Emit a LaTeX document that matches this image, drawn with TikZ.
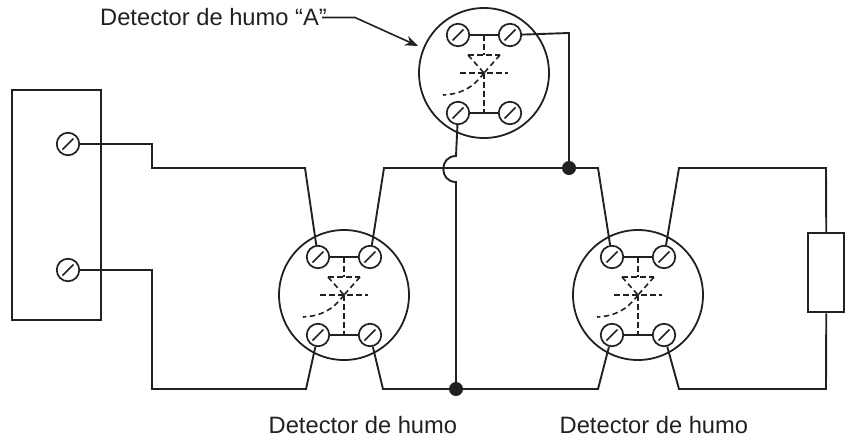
\documentclass[tikz,border=0pt]{standalone}
\usepackage{fontspec}
\setmainfont{Liberation Sans}
\usetikzlibrary{arrows.meta}
\definecolor{ink}{gray}{0.13}
\tikzset{
	screw/.style={draw=ink, circle, minimum size=22.5pt, inner sep=0pt, line width=1.7pt,
		path picture={\draw [ink, line width=1.5pt] ([shift={(-5.5pt,-5.5pt)}]path picture bounding box.center) -- ([shift={(5.5pt,5.5pt)}]path picture bounding box.center);}},
	housing/.style={draw=ink, circle, minimum size=130pt, inner sep=0pt, line width=1.8pt},
	box/.style={draw=ink, inner sep=0pt, line width=2pt},
	wire/.style={ink, line width=1.9pt},
	inner dash/.style={ink, line width=1.6pt, dash pattern=on 5.5pt off 3.5pt},
	junction/.style={fill=ink, circle, minimum size=14pt, inner sep=0pt},
	caption/.style={font=\fontsize{23.7}{26}\selectfont, inner sep=0pt, text=ink}
}
% one smoke detector: housing, four screws, inner contacts
\newcommand{\detector}[3]{
	\node [housing] (#1) at (#2,#3) {};
	\node [screw] (#1tl) at (#2-26,#3-38) {};
	\node [screw] (#1tr) at (#2+26,#3-38) {};
	\node [screw] (#1bl) at (#2-26,#3+40) {};
	\node [screw] (#1br) at (#2+26,#3+40) {};
	\draw [ink, line width=1.5pt] (#1tl) -- (#1tr);
	\draw [ink, line width=1.5pt] (#1bl) -- (#1br);
	\draw [inner dash] (#2,#3-38) -- (#2,#3-18);
	\draw [inner dash] (#2-16,#3-18) -- (#2+16,#3-18);
	\draw [inner dash] (#2-16,#3-18) -- (#2,#3);
	\draw [inner dash] (#2+16,#3-18) -- (#2,#3);
	\draw [inner dash] (#2-24,#3) -- (#2+24,#3);
	\draw [inner dash] (#2,#3) -- (#2,#3+40);
	\draw [inner dash] (#2,#3) .. controls (#2-12,#3+16) and (#2-24,#3+21) .. (#2-41,#3+22);
}
\begin{document}
\begin{tikzpicture}[x=1pt,y=-1pt]
	\useasboundingbox (0,0) rectangle (851,440);
	% panel
	\node [box, minimum width=89pt, minimum height=230pt] (panel) at (56,204.5) {};
	\node [screw] (ptop) at (68,144) {};
	\node [screw] (pbot) at (68,270) {};
	% detectors
	\detector{A}{484}{73}
	\detector{L}{344}{295}
	\detector{R}{638}{295}
	% end of line resistor
	\node [box, minimum width=36pt, minimum height=79pt] (res) at (826.4,272.9) {};
	% junctions
	\node [junction] (jtop) at (569,168) {};
	\node [junction] (jbot) at (456,389) {};
	% wiring
	\draw [wire] (ptop) -- (152,144) -- (152,168) -- (305,168) -- (Ltl);
	\draw [wire] (pbot) -- (152,270) -- (152,389) -- (306,389) -- (Lbl);
	\draw [wire] (Ltr) -- (384,168) -- (598,168) -- (Rtl);
	\draw [wire] (Lbr) -- (383,389) -- (598,389) -- (Rbl);
	\draw [wire] (Rtr) -- (679,168) -- (826,168) -- (res);
	\draw [wire] (Rbr) -- (679,389) -- (826,389) -- (res);
	\draw [wire] (Atr) -- (569,33) -- (jtop);
	\draw [wire] (Abl) -- (456,156) .. controls (439,156) and (439,182) .. (456,182) -- (jbot);
	% labels
	\node [caption, anchor=base west] (lblA) at (100,25.5) {Detector de humo “A”};
	\node [caption, anchor=base west] (lblL) at (268.5,433) {Detector de humo};
	\node [caption, anchor=base west] (lblR) at (559.5,433) {Detector de humo};
	\coordinate (lead) at (355,17.5);
	\draw [ink, line width=1.6pt, -{Stealth[length=13pt,width=10pt]}] (322,17.5) -- (lead) -- (418,46);
\end{tikzpicture}
\end{document}
